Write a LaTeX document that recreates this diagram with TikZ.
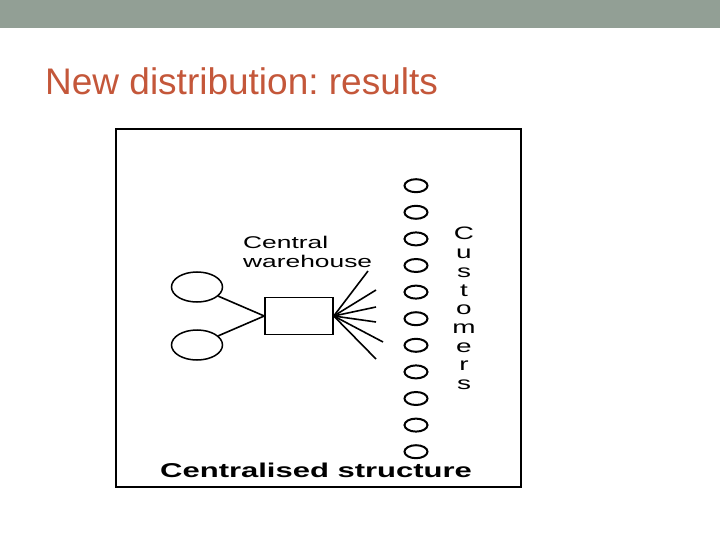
\documentclass[tikz,border=0pt]{standalone}
\usepackage{fontspec}
\setmainfont{Liberation Sans}
\newfontfamily\widefont[FakeStretch=1.55]{Liberation Sans}
\usetikzlibrary{shapes.geometric}
\definecolor{barcol}{RGB}{146,159,149}
\definecolor{titlecol}{RGB}{196,87,58}
\frenchspacing
\begin{document}
\begin{tikzpicture}[x=1pt,y=-1pt,
  lbl/.style={inner sep=0pt, anchor=base west, font=\widefont\fontsize{17}{19}\selectfont},
  letter/.style={inner sep=0pt, anchor=base, font=\widefont\fontsize{18}{19}\selectfont},
  cust/.style={ellipse, draw, line width=2pt, minimum width=23pt, minimum height=13pt, inner sep=0pt},
  supp/.style={ellipse, draw, line width=1.5pt, minimum width=51pt, minimum height=30pt, inner sep=0pt},
  link/.style={line width=1.6pt}]
\useasboundingbox (0,0) rectangle (720,540);
\fill[barcol] (0,0) rectangle (720,28);
\node[inner sep=0pt, anchor=base west, text=titlecol, font=\fontsize{37}{44}\selectfont] (title) at (45,95) {New distribution: results};
% frame
\node[draw, line width=2pt, minimum width=405pt, minimum height=358pt, inner sep=0pt, anchor=north west] (frame) at (115,128) {};
% warehouse
\node[draw, line width=1.5pt, minimum width=68pt, minimum height=37pt, inner sep=0pt] (wh) at (299,316) {};
\node[lbl] (cw1) at (243,248) {Central};
\node[lbl] (cw2) at (243,267) {warehouse};
% suppliers
\node[supp] (s1) at (197,287) {};
\node[supp] (s2) at (197,345) {};
\draw[link] (s1) -- (wh.west);
\draw[link] (s2) -- (wh.west);
% fan
\coordinate (f1) at (368,271);
\coordinate (f2) at (376,290);
\coordinate (f3) at (376,307);
\coordinate (f4) at (376,322);
\coordinate (f5) at (383,342);
\coordinate (f6) at (376,359);
\foreach \i in {1,...,6} \draw[link] (wh.east) -- (f\i);
% customers
\foreach \i in {0,...,10} \node[cust] (c\i) at (416,{185.7+26.6*\i}) {};
\foreach \l [count=\k] in {C,u,s,t,o,m,e,r,s} \node[letter] (L\k) at (464,{221.3+18.7*\k}) {\l};
% caption
\node[inner sep=0pt, anchor=base west, font=\widefont\bfseries\fontsize{20}{22}\selectfont] (cap) at (160,477) {Centralised structure};
\end{tikzpicture}
\end{document}
